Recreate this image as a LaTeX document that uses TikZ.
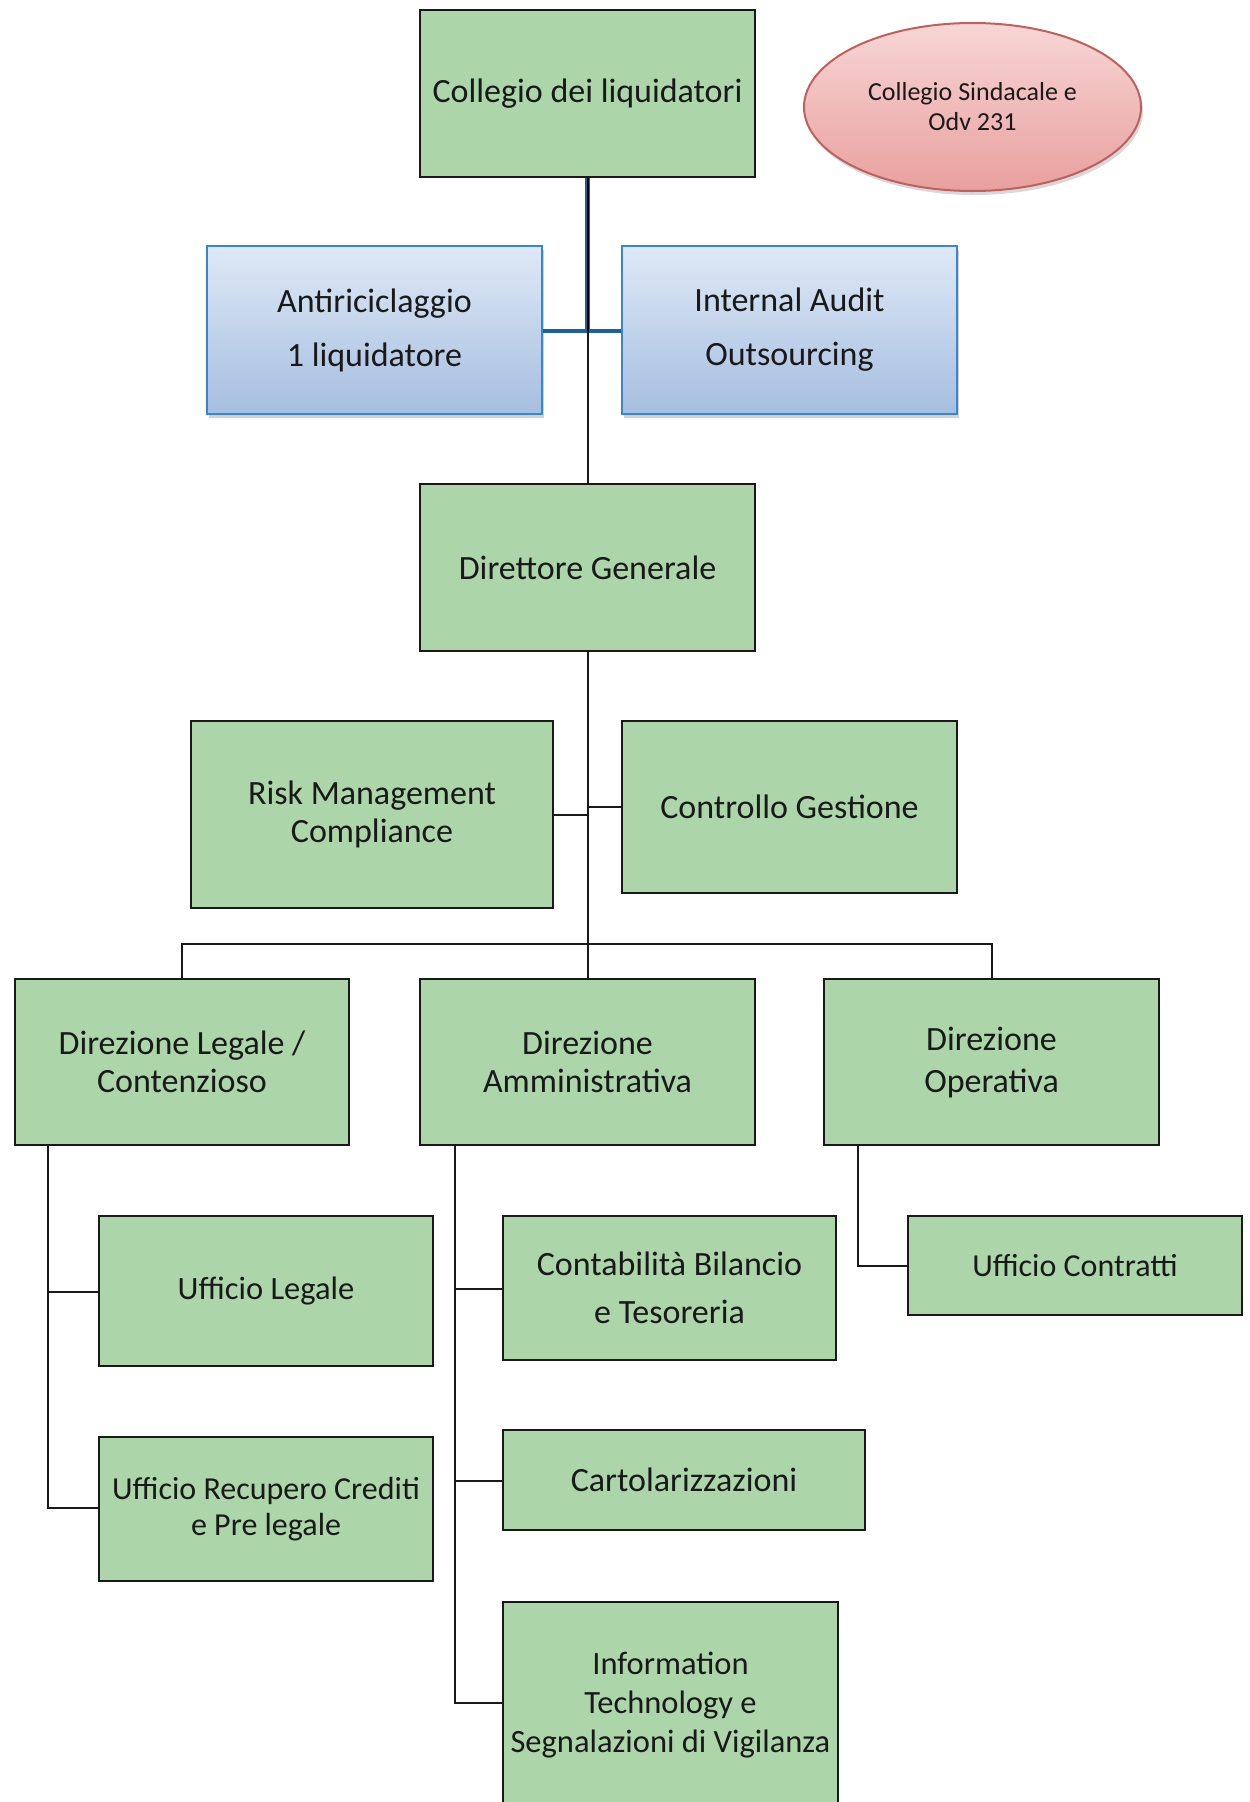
\documentclass[tikz,border=0pt]{standalone}
\usepackage{fontspec}
\setmainfont{Carlito}
\usetikzlibrary{shadows,shapes.geometric}
\definecolor{gfill}{RGB}{172,214,170}
\definecolor{gline}{RGB}{25,25,25}
\definecolor{btop}{RGB}{222,233,246}
\definecolor{bbot}{RGB}{166,190,224}
\definecolor{bline}{RGB}{55,135,208}
\definecolor{etop}{RGB}{247,214,213}
\definecolor{ebot}{RGB}{232,160,158}
\definecolor{eline}{RGB}{192,96,92}
\definecolor{navy}{RGB}{30,95,160}
\begin{document}
\begin{tikzpicture}[x=1pt,y=-1pt,
  gbox/.style={draw=gline,line width=2.4pt,fill=gfill,rectangle,align=center,text=black!90,inner sep=2pt},
  bbox/.style={draw=bline,line width=2pt,rectangle,top color=btop,bottom color=bbot,align=center,text=black!90,
    drop shadow={opacity=0.35,shadow xshift=2pt,shadow yshift=-4pt}},
  ebox/.style={draw=eline,line width=2pt,ellipse,top color=etop,bottom color=ebot,align=center,text=black!90,
    drop shadow={opacity=0.3,shadow xshift=2pt,shadow yshift=-4pt},inner sep=0pt},
  conn/.style={draw=black!90,line width=2pt},
  big/.style={font=\fontsize{34}{38}\selectfont}
]
\useasboundingbox (0,0) rectangle (1250,1802);
\clip (0,0) rectangle (1250,1802);
\fill[white] (0,0) rectangle (1250,1802);

% top level
\node[gbox,big,minimum width=335pt,minimum height=167pt] (coll) at (587.5,93.5) {Collegio dei liquidatori};
\node[ebox,font=\fontsize{26}{30}\selectfont,minimum width=337pt,minimum height=168pt] (cs) at (972.5,107) {Collegio Sindacale e\\Odv 231};

\node[bbox,font=\fontsize{34}{54}\selectfont,minimum width=335pt,minimum height=168pt] (anti) at (374.5,330) {Antiriciclaggio\\1 liquidatore};
\node[bbox,font=\fontsize{34}{54}\selectfont,minimum width=335pt,minimum height=168pt] (audit) at (789.5,330) {Internal Audit\\Outsourcing};

\node[gbox,big,minimum width=335pt,minimum height=167pt] (dg) at (587.5,567.5) {Direttore Generale};

\node[gbox,big,minimum width=362pt,minimum height=187pt] (risk) at (372,814.5) {Risk Management\\Compliance};
\node[gbox,big,minimum width=335pt,minimum height=172pt] (ctrl) at (789.5,807) {Controllo Gestione};

\node[gbox,big,minimum width=334pt,minimum height=166pt] (dleg) at (182,1062) {Direzione Legale /\\Contenzioso};
\node[gbox,big,minimum width=335pt,minimum height=166pt] (damm) at (587.5,1062) {Direzione\\Amministrativa};
\node[gbox,font=\fontsize{34}{42}\selectfont,minimum width=335pt,minimum height=166pt] (dop) at (991.5,1062) {\vphantom{g}\\[-34pt]Direzione\\Operativa};

\node[gbox,font=\fontsize{32.5}{38}\selectfont,minimum width=334pt,minimum height=150pt] (uleg) at (266,1291) {Ufficio Legale};
\node[gbox,font=\fontsize{32}{36}\selectfont,minimum width=334pt,minimum height=144pt] (urec) at (266,1509) {Ufficio Recupero Crediti\\e Pre legale};

\node[gbox,font=\fontsize{34}{48}\selectfont,minimum width=333pt,minimum height=144pt] (cont) at (669.5,1288) {Contabilità Bilancio\\e Tesoreria};
\node[gbox,big,minimum width=362pt,minimum height=100pt] (cart) at (684,1480) {Cartolarizzazioni};
\node[gbox,font=\fontsize{32.5}{39}\selectfont,minimum width=335pt,minimum height=206pt] (info) at (670.5,1705) {Information\\Technology e\\Segnalazioni di Vigilanza};

\node[gbox,font=\fontsize{32}{38}\selectfont,minimum width=334pt,minimum height=99pt] (ucon) at (1075,1265.5) {Ufficio Contratti};

% connectors top
\coordinate (j1) at (587.5,331);
\draw[navy,line width=4pt] (anti.east |- j1) -- (audit.west |- j1);
\draw[navy,line width=5pt] (coll.south) -- (j1);
\draw[black,line width=2pt] (coll.south) -- (j1);
\draw[conn] (j1) -- (dg.north);

% Direttore down
\draw[conn] (dg.south) -- (damm.north);
\coordinate (jr) at (587.5,815);
\coordinate (jc) at (587.5,807);
\draw[conn] (risk.east |- jr) -- (jr);
\draw[conn] (ctrl.west |- jc) -- (jc);
\coordinate (bus) at (587.5,944);
\draw[conn] (dleg.north) -- (dleg.north |- bus) -- (dop.north |- bus) -- (dop.north);

% Direzione Legale
\coordinate (lx) at (48,1145);
\draw[conn] (lx) -- (48,1508) -- (urec.west |- 0,1508);
\draw[conn] (48,1292) -- (uleg.west |- 0,1292);

% Direzione Amministrativa
\coordinate (ax) at (455,1145);
\draw[conn] (ax) -- (455,1703) -- (info.west |- 0,1703);
\draw[conn] (455,1289) -- (cont.west |- 0,1289);
\draw[conn] (455,1481) -- (cart.west |- 0,1481);

% Direzione Operativa
\coordinate (ox) at (858,1145);
\draw[conn] (ox) -- (858,1266) -- (ucon.west |- 0,1266);
\end{tikzpicture}
\end{document}
